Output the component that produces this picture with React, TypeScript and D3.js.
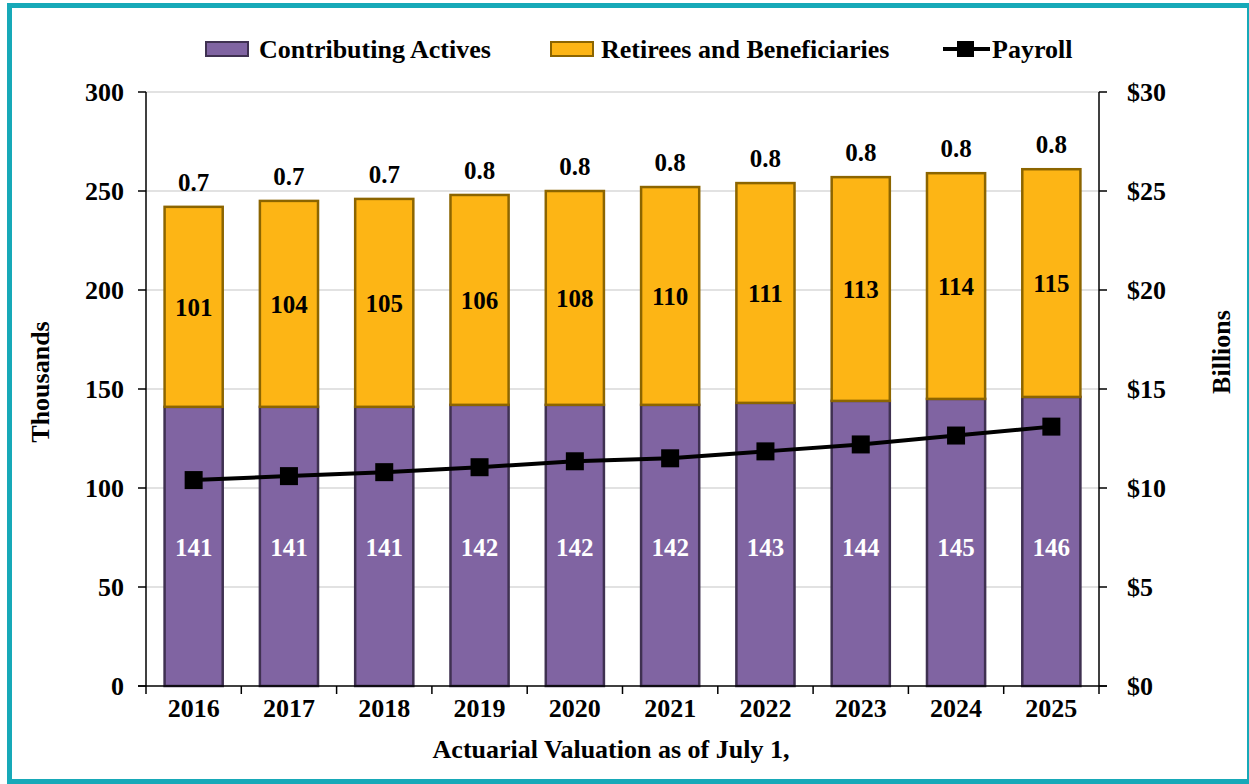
import React from "react";
import * as d3 from "d3";

const years = ["2016", "2017", "2018", "2019", "2020", "2021", "2022", "2023", "2024", "2025"];
const actives = [141, 141, 141, 142, 142, 142, 143, 144, 145, 146];
const retirees = [101, 104, 105, 106, 108, 110, 111, 113, 114, 115];
const ratios = ["0.7", "0.7", "0.7", "0.8", "0.8", "0.8", "0.8", "0.8", "0.8", "0.8"];
const payroll = [10.4, 10.6, 10.8, 11.05, 11.35, 11.5, 11.85, 12.2, 12.65, 13.1];
const leftTicks = [0, 50, 100, 150, 200, 250, 300];
const rightTicks = [0, 5, 10, 15, 20, 25, 30];

const W = 1249, H = 784;
const L = 146, R = 1099, T = 92, B = 686;
const FONT = "'Liberation Serif', 'Times New Roman', serif";
const PURPLE = "#8064A2", PURPLE_S = "#3F3151";
const ORANGE = "#FDB515", ORANGE_S = "#8C6500";
const FS = 26;

export default function App() {
  const x = d3.scaleBand<string>().domain(years).range([L, R]).paddingInner(0.39).paddingOuter(0.195);
  const y = d3.scaleLinear().domain([0, 300]).range([B, T]);
  const y2 = d3.scaleLinear().domain([0, 30]).range([B, T]);
  const band = (R - L) / years.length;
  const line = d3.line<number>().x((_, i) => x(years[i])! + x.bandwidth() / 2).y((d) => y2(d));

  return (
    <svg width={W} height={H} style={{ position: "absolute", left: 0, top: 0, fontFamily: FONT }}>
      <rect x={0} y={0} width={W} height={H} fill="#fff" />
      <rect x={9.5} y={5.5} width={W - 9} height={H - 8} fill="none" stroke="#17A9B8" strokeWidth={5} />
      {leftTicks.slice(1).map((t) => (
        <line key={t} x1={L} x2={R} y1={y(t)} y2={y(t)} stroke="#D9D9D9" strokeWidth={1.3} />
      ))}
      {years.map((yr, i) => {
        const bx = x(yr)!;
        const bw = x.bandwidth();
        return (
          <g key={yr}>
            <rect x={bx} y={y(actives[i])} width={bw} height={y(0) - y(actives[i])} fill={PURPLE} stroke={PURPLE_S} strokeWidth={2.5} />
            <rect x={bx} y={y(actives[i] + retirees[i])} width={bw} height={y(actives[i]) - y(actives[i] + retirees[i])} fill={ORANGE} stroke={ORANGE_S} strokeWidth={2.5} />
          </g>
        );
      })}
      <path d={line(payroll)!} fill="none" stroke="#000" strokeWidth={4} />
      {payroll.map((v, i) => (
        <rect key={i} x={x(years[i])! + x.bandwidth() / 2 - 9} y={y2(v) - 9} width={18} height={18} fill="#000" />
      ))}
      {years.map((yr, i) => {
        const cx = x(yr)! + x.bandwidth() / 2;
        const yRt = y(actives[i] + retirees[i] / 2);
        return (
          <g key={yr} fontWeight="bold" textAnchor="middle">
            <text x={cx} y={y(70) + 9} fill="#fff" fontSize={25}>{actives[i]}</text>
            <text x={cx} y={yRt + 9} fill="#000" fontSize={25}>{retirees[i]}</text>
            <text x={cx} y={y(actives[i] + retirees[i]) - 16} fill="#000" fontSize={25}>{ratios[i]}</text>
          </g>
        );
      })}
      <line x1={L} x2={L} y1={T} y2={B} stroke="#000" strokeWidth={1.5} />
      <line x1={R} x2={R} y1={T} y2={B} stroke="#000" strokeWidth={1.5} />
      <line x1={L - 8} x2={R + 8} y1={B} y2={B} stroke="#000" strokeWidth={1.5} />
      {leftTicks.map((t) => (
        <g key={t}>
          <line x1={L - 8} x2={L} y1={y(t)} y2={y(t)} stroke="#000" strokeWidth={1.5} />
          <text x={124} y={y(t) + 9} textAnchor="end" fontSize={FS} fontWeight="bold">{t}</text>
        </g>
      ))}
      {rightTicks.map((t) => (
        <g key={t}>
          <line x1={R} x2={R + 8} y1={y2(t)} y2={y2(t)} stroke="#000" strokeWidth={1.5} />
          <text x={1127} y={y2(t) + 9} textAnchor="start" fontSize={FS} fontWeight="bold">{"$" + t}</text>
        </g>
      ))}
      {d3.range(years.length + 1).map((i) => (
        <line key={i} x1={L + i * band} x2={L + i * band} y1={B} y2={B + 8} stroke="#000" strokeWidth={1.5} />
      ))}
      {years.map((yr) => (
        <text key={yr} x={x(yr)! + x.bandwidth() / 2} y={717} textAnchor="middle" fontSize={FS} fontWeight="bold">{yr}</text>
      ))}
      <text x={611} y={758} textAnchor="middle" fontSize={FS} fontWeight="bold">Actuarial Valuation as of July 1,</text>
      <text transform={`translate(49,382) rotate(-90)`} textAnchor="middle" fontSize={FS} fontWeight="bold">Thousands</text>
      <text transform={`translate(1230,352) rotate(-90)`} textAnchor="middle" fontSize={FS} fontWeight="bold">Billions</text>
      <g fontSize={FS} fontWeight="bold">
        <rect x={206} y={42} width={42} height={14} fill={PURPLE} stroke={PURPLE_S} strokeWidth={2} />
        <text x={259} y={58}>Contributing Actives</text>
        <rect x={551} y={42} width={42} height={14} fill={ORANGE} stroke={ORANGE_S} strokeWidth={2} />
        <text x={601} y={58}>Retirees and Beneficiaries</text>
        <line x1={943} x2={990} y1={49} y2={49} stroke="#000" strokeWidth={4} />
        <rect x={957} y={41} width={17} height={16} fill="#000" />
        <text x={992} y={58}>Payroll</text>
      </g>
    </svg>
  );
}
